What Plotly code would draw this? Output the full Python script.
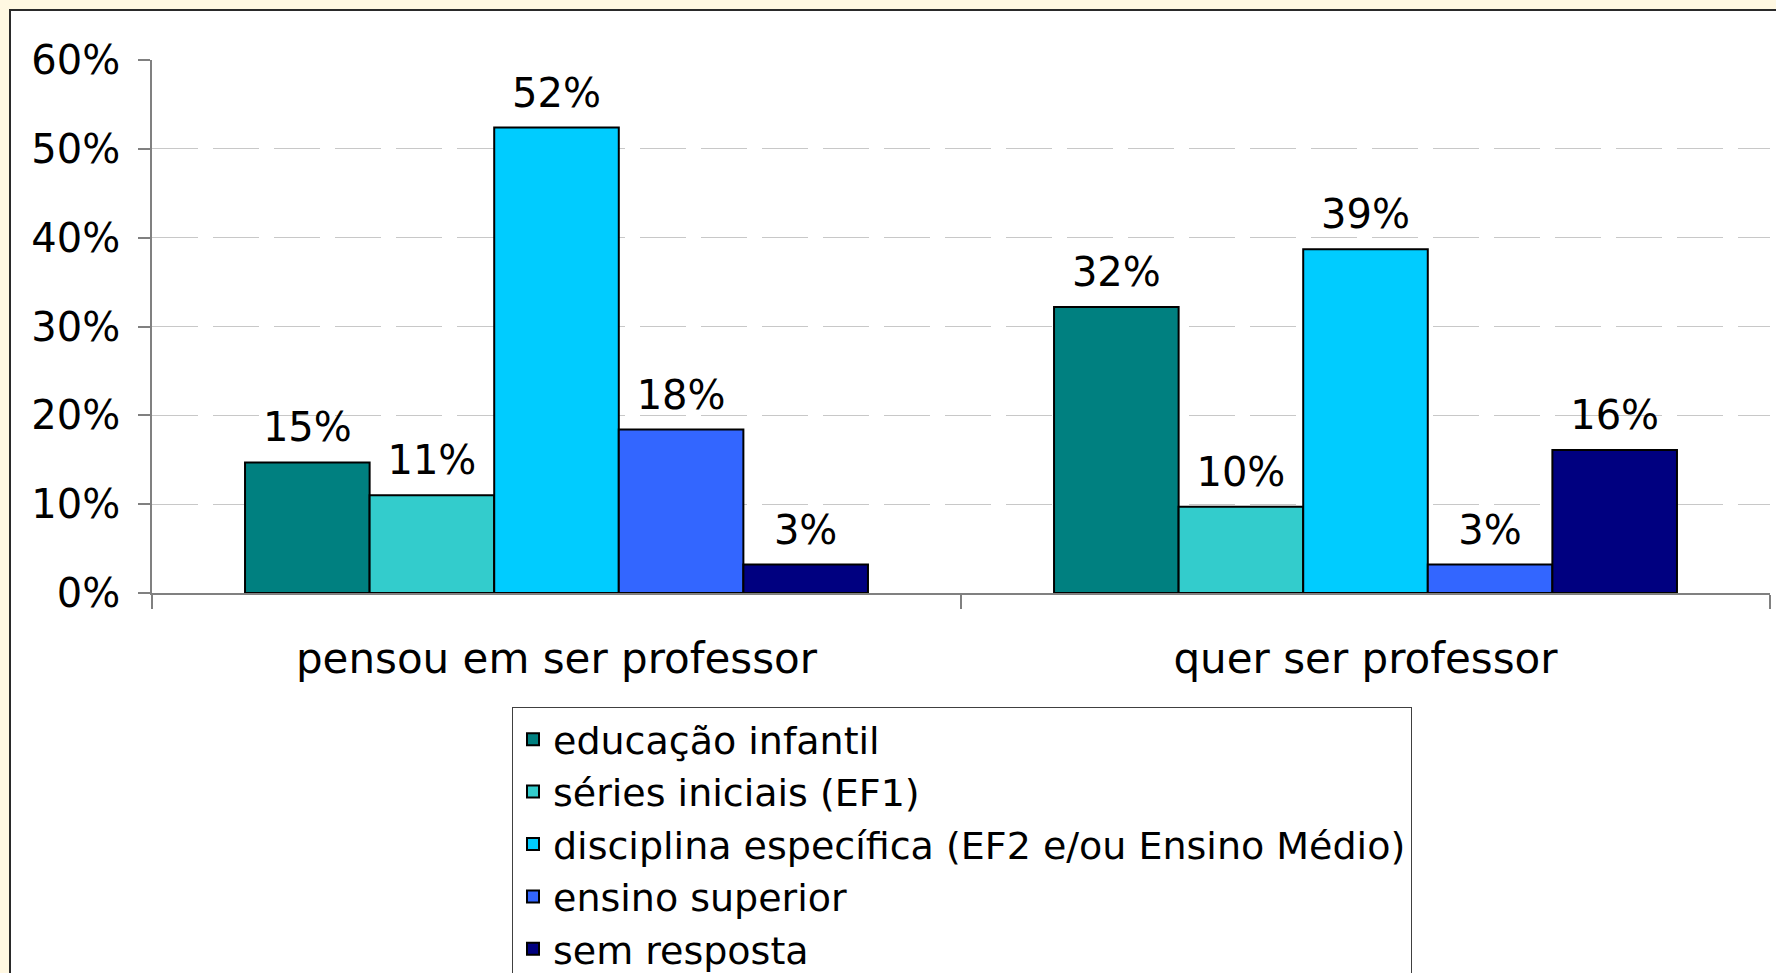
import plotly.graph_objects as go

categories = ["pensou em ser professor", "quer ser professor"]
series_names = [
    "educação infantil",
    "séries iniciais (EF1)",
    "disciplina específica (EF2 e/ou Ensino Médio)",
    "ensino superior",
    "sem resposta",
]
series_colors = ["#008080", "#33CCCC", "#00CCFF", "#3366FF", "#000080"]
educacao_infantil = [14.7, 32.2]
series_iniciais = [11.0, 9.7]
disciplina_especifica = [52.4, 38.7]
ensino_superior = [18.4, 3.2]
sem_resposta = [3.2, 16.1]
series_values = [educacao_infantil, series_iniciais, disciplina_especifica,
                 ensino_superior, sem_resposta]
y_tick_values = [0, 10, 20, 30, 40, 50, 60]
y_tick_labels = ["0%", "10%", "20%", "30%", "40%", "50%", "60%"]

FONT = "DejaVu Sans"
FS_TICK = 40
FS_CAT = 42
FS_LEG = 38
FS_LBL = 40
GAP = 0.23

fig = go.Figure()
for i, (name, vals, col) in enumerate(zip(series_names, series_values, series_colors)):
    fig.add_trace(go.Bar(
        name=name, x=categories, y=vals,
        marker=dict(color=col, line=dict(color="#000000", width=2)),
        offsetgroup=f"g{i}", legendgroup=f"g{i}",
    ))
for i, (name, vals) in enumerate(zip(series_names, series_values)):
    fig.add_trace(go.Scatter(
        x=categories, y=vals, mode="markers+text",
        text=[f"{v:.0f}%" for v in vals], textposition="top center",
        textfont=dict(family=FONT, size=FS_LBL, color="#000000"),
        marker=dict(size=16, color="rgba(0,0,0,0)"),
        offsetgroup=f"g{i}", showlegend=False, hoverinfo="skip",
        cliponaxis=False,
    ))

W, H = 1776, 973
L, R, T, B = 152, 6, 60, 380
pw, ph = W - L - R, H - T - B

def px_x(x):
    return (x - L) / pw

def px_y(y):
    return (H - B - y) / ph

fig.add_shape(type="rect", xref="paper", yref="paper",
              x0=px_x(10), x1=px_x(W + 10), y0=px_y(H + 10), y1=px_y(10),
              line=dict(color="#2a2a2a", width=2), fillcolor="#FFFFFF", layer="below")

fig.update_layout(
    width=W, height=H,
    margin=dict(l=L, r=R, t=T, b=B, autoexpand=False),
    paper_bgcolor="#FFF8E2", plot_bgcolor="#FFFFFF",
    font=dict(family=FONT, size=FS_TICK, color="#000000"),
    barmode="group", bargap=GAP, bargroupgap=0,
    scattermode="group", scattergap=GAP,
    showlegend=True,
    legend=dict(
        x=px_x(512), y=px_y(707), xanchor="left", yanchor="top",
        bgcolor="#FFFFFF", bordercolor="#404040", borderwidth=1,
        font=dict(family=FONT, size=FS_LEG, color="#000000"),
        tracegroupgap=3, traceorder="normal",
    ),
    xaxis=dict(
        type="category", tickson="boundaries", ticks="outside", ticklen=14,
        tickcolor="#808080", tickwidth=1.5, showline=True, linecolor="#808080",
        linewidth=1.5, showgrid=False, ticklabelstandoff=28,
        tickfont=dict(family=FONT, size=FS_CAT),
    ),
    yaxis=dict(
        range=[0, 60], tickmode="array", tickvals=y_tick_values, ticktext=y_tick_labels,
        ticks="outside", ticklen=12, tickcolor="#808080", tickwidth=1.5,
        showline=True, linecolor="#808080", linewidth=1.5,
        showgrid=True, gridcolor="#C8C8C8", gridwidth=1, griddash="46px,15px",
        zeroline=False, ticklabelstandoff=10,
        tickfont=dict(family=FONT, size=FS_TICK),
    ),
)

fig.write_html(
    "out.html",
    config={"displayModeBar": False},
    post_script="document.body.style.margin='0';document.body.style.background='#FFF8E2';",
)
